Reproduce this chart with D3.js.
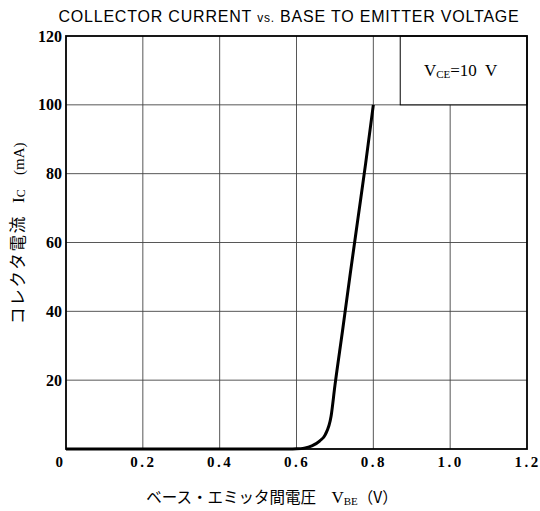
<!DOCTYPE html>
<html><head><meta charset="utf-8">
<script src="https://cdn.jsdelivr.net/npm/d3@7"></script>
<style>body{margin:0;background:#fff}svg{display:block}</style>
</head><body>
<script>
const vbe = [0, 0.58, 0.6, 0.62, 0.64, 0.66, 0.675, 0.69, 0.70, 0.72, 0.74, 0.76, 0.78, 0.79, 0.80];
const ic  = [0, 0, 0.05, 0.25, 0.9, 2.3, 4.2, 9.5, 18.4, 34.5, 51, 67, 83, 91.5, 100];
const xTicks = [0, 0.2, 0.4, 0.6, 0.8, 1.0, 1.2];
const xTickLabels = ["0", "0.2", "0.4", "0.6", "0.8", "1.0", "1.2"];
const yTicks = [20, 40, 60, 80, 100, 120];
const legendText = ["V", "CE", "=10  V"];

const W = 540, H = 511;
const m = {l: 66, r: 13, t: 36, b: 62};
const svg = d3.select("body").append("svg").attr("width", W).attr("height", H);
const x = d3.scaleLinear().domain([0, 1.2]).range([m.l, W - m.r]);
const y = d3.scaleLinear().domain([0, 120]).range([H - m.b, m.t]);

// grid
const g = svg.append("g");
g.selectAll("line.vx").data(xTicks.slice(1, -1)).join("line")
  .attr("x1", d => x(d)).attr("x2", d => x(d)).attr("y1", y(0)).attr("y2", y(120))
  .attr("stroke", "#444").attr("stroke-width", 0.9);
g.selectAll("line.hy").data(yTicks.slice(0, -1)).join("line")
  .attr("x1", x(0)).attr("x2", x(1.2)).attr("y1", d => y(d)).attr("y2", d => y(d))
  .attr("stroke", "#444").attr("stroke-width", 0.9);

// legend box
const lx0 = x(0.87), ly1 = y(100);
svg.append("rect").attr("x", lx0).attr("y", y(120)).attr("width", x(1.2) - lx0).attr("height", ly1 - y(120))
  .attr("fill", "#fff").attr("stroke", "#000").attr("stroke-width", 1);
const lt = svg.append("text").attr("x", (lx0 + x(1.2)) / 2 - 3).attr("y", y(110) + 6)
  .attr("text-anchor", "middle").attr("font-family", "Liberation Serif, serif").attr("font-size", 17).attr("fill", "#000");
lt.append("tspan").text(legendText[0]);
lt.append("tspan").attr("font-size", 11).attr("dy", 2).text(legendText[1]);
lt.append("tspan").attr("dy", -2).text(legendText[2]).attr("xml:space", "preserve");

// frame
svg.append("rect").attr("x", x(0)).attr("y", y(120)).attr("width", x(1.2) - x(0)).attr("height", y(0) - y(120))
  .attr("fill", "none").attr("stroke", "#000").attr("stroke-width", 1.8);

// axes tick labels
const ax = d3.axisBottom(x).tickValues(xTicks).tickSize(0).tickFormat((d, i) => xTickLabels[i]);
const gx = svg.append("g").attr("transform", `translate(0,${y(0)})`).call(ax);
gx.select(".domain").remove();
gx.selectAll("text").attr("font-family", "Liberation Serif, serif").attr("font-size", 15).attr("font-weight", "bold")
  .attr("letter-spacing", "2.5px").attr("dy", "1.0em").attr("fill", "#000");
gx.selectAll(".tick").filter(d => d === 0).select("text").attr("dx", "-6");
const ay = d3.axisLeft(y).tickValues(yTicks).tickSize(0).tickPadding(4);
const gy = svg.append("g").attr("transform", `translate(${x(0)},0)`).call(ay);
gy.select(".domain").remove();
gy.selectAll("text").attr("font-family", "Liberation Serif, serif").attr("font-size", 16).attr("font-weight", "bold").attr("fill", "#000");

// curve
const pts = vbe.map((v, i) => [v, ic[i]]);
svg.append("path").datum(pts)
  .attr("d", d3.line().x(d => x(d[0])).y(d => y(d[1])).curve(d3.curveMonotoneX))
  .attr("fill", "none").attr("stroke", "#000").attr("stroke-width", 3).attr("stroke-linejoin", "round");

// title
const tt = svg.append("text").attr("x", 289).attr("y", 22).attr("text-anchor", "middle")
  .attr("font-family", "Liberation Sans, Arial, sans-serif").attr("font-size", 16).attr("letter-spacing", "0.8px").attr("fill", "#000");
tt.append("tspan").text("COLLECTOR CURRENT ");
tt.append("tspan").attr("font-size", 12).text("vs.");
tt.append("tspan").text(" BASE TO EMITTER VOLTAGE");

// x label
const xl = svg.append("text").attr("x", 272).attr("y", 503).attr("text-anchor", "middle")
  .attr("font-size", 15.5).attr("fill", "#000").attr("font-family", "Noto Sans CJK JP, sans-serif");
xl.append("tspan").text("ベース・エミッタ間電圧　");
xl.append("tspan").attr("font-family", "Liberation Serif, serif").attr("font-size", 17).text("V");
xl.append("tspan").attr("font-family", "Liberation Serif, serif").attr("font-size", 11).attr("dy", 2).text("BE");
xl.append("tspan").attr("dy", -2).text("（V）");

// y label (three pieces along the rotated axis)
const yl = svg.append("text").attr("transform", `translate(24,0) rotate(-90)`)
  .attr("font-size", 16.5).attr("fill", "#000").attr("font-family", "Noto Sans CJK JP, sans-serif");
yl.append("tspan").attr("x", -324).attr("letter-spacing", "1.8px").text("コレクタ電流");
yl.append("tspan").attr("x", -203).attr("font-family", "Liberation Serif, serif").attr("font-size", 17).text("I");
yl.append("tspan").attr("font-family", "Liberation Serif, serif").attr("font-size", 12).attr("dy", 1).text("C");
yl.append("tspan").attr("x", -175).attr("font-family", "Liberation Serif, serif").attr("font-size", 15).attr("dy", -1).text("(mA)");
</script>
</body></html>
